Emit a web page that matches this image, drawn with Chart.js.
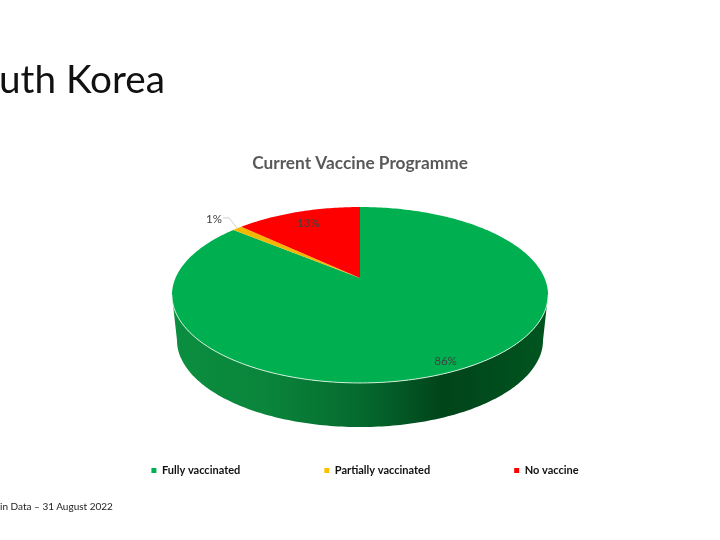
<!DOCTYPE html>
<html>
<head>
<meta charset="utf-8">
<style>
  body { margin: 0; background: #fff; overflow: hidden; }
  #wrap { position: relative; width: 720px; height: 540px; overflow: hidden; }
  canvas { position: absolute; left: 0; top: 0; }
  .slideText { position: absolute; white-space: nowrap; font-family: Lato, sans-serif; color: #111; }
</style>
<script src="https://cdn.jsdelivr.net/npm/chart.js@4/dist/chart.umd.min.js"></script>
</head>
<body>
<div id="wrap">
  <canvas id="vaccineChart" width="720" height="540"></canvas>
  <div class="slideText" style="left:-1px;top:55px;font-size:38.7px;">uth Korea</div>
  <div class="slideText" style="left:0;top:500px;font-size:10px;color:#222;">in Data – 31 August 2022</div>
</div>
<script>
const categories = ['Fully vaccinated', 'Partially vaccinated', 'No vaccine'];
const shares = [86, 1, 13];
const sliceColors = ['#00B050', '#F2B800', '#FF0000'];
const legendColors = ['#00B050', '#FFC000', '#FF0000'];

// perspective tilt of the disc, top face and bottom face
const tilt = 0.193;
const topFace = { rx: 184.5, ry: 84.7, cy: 278 };
const bottomFace = { rx: 179.6, ry: 83.8, cy: 323.2 };

// where each percent label sits, as a share of the radius
const labelRadius = [0.915, 1.22, 0.805];

function project(el, face, angle, r) {
  const u = Math.cos(angle) * r;
  const v = -Math.sin(angle) * r;
  const d = 1 + tilt * v;
  return { x: el.x + face.rx * u / d, y: face.cy - face.ry * v / d };
}

function traceArc(ctx, el, face, from, to) {
  const steps = Math.max(2, Math.ceil(Math.abs(to - from) * 60));
  for (let i = 0; i <= steps; i++) {
    const p = project(el, face, from + (to - from) * i / steps, 1);
    ctx.lineTo(p.x, p.y);
  }
}

// the library gives the slice angles, this plugin draws them as a tilted disc
const discPlugin = {
  id: 'disc',
  afterLayout(chart) {
    // legend row sits a little right of the slide centre
    chart.legend.left += 5;
    chart.legend.right += 5;
  },
  beforeDatasetDraw(chart) {
    const ctx = chart.ctx;
    const arcs = chart.getDatasetMeta(0).data;
    const frontStart = Math.asin(tilt);
    const frontEnd = Math.PI - frontStart;

    const side = ctx.createLinearGradient(172, 0, 548, 0);
    side.addColorStop(0, '#0B8E40');
    side.addColorStop(0.25, '#0A853B');
    side.addColorStop(0.5, '#056A2E');
    side.addColorStop(0.72, '#00441A');
    side.addColorStop(1, '#00551F');

    ctx.save();
    arcs.forEach((el) => {
      const from = Math.max(el.startAngle, frontStart);
      const to = Math.min(el.endAngle, frontEnd);
      if (to <= from) return;
      ctx.beginPath();
      traceArc(ctx, el, topFace, from, to);
      traceArc(ctx, el, bottomFace, to, from);
      ctx.closePath();
      ctx.fillStyle = side;
      ctx.fill();
    });

    arcs.forEach((el, i) => {
      const apex = project(el, topFace, 0, 0);
      ctx.beginPath();
      ctx.moveTo(apex.x, apex.y);
      traceArc(ctx, el, topFace, el.startAngle, el.endAngle);
      ctx.closePath();
      ctx.fillStyle = sliceColors[i];
      ctx.fill();
    });

    // pale rim along the front edge
    ctx.beginPath();
    traceArc(ctx, arcs[0], topFace, frontStart, frontEnd);
    ctx.strokeStyle = 'rgba(225,245,230,0.9)';
    ctx.lineWidth = 1;
    ctx.stroke();

    ctx.font = '11.5px Lato, sans-serif';
    ctx.textAlign = 'center';
    ctx.textBaseline = 'middle';
    arcs.forEach((el, i) => {
      const mid = (el.startAngle + el.endAngle) / 2;
      const p = project(el, topFace, mid, labelRadius[i]);
      if (labelRadius[i] > 1) {
        const a = project(el, topFace, mid, 1);
        ctx.beginPath();
        ctx.moveTo(p.x + 9, p.y - 1);
        ctx.lineTo(p.x + 15, p.y - 1);
        ctx.lineTo(a.x, a.y);
        ctx.strokeStyle = '#BFBFBF';
        ctx.lineWidth = 0.75;
        ctx.stroke();
      }
      ctx.fillStyle = '#404040';
      ctx.fillText(shares[i] + '%', p.x, p.y);
    });
    ctx.restore();
    return false;
  }
};

new Chart(document.getElementById('vaccineChart'), {
  type: 'pie',
  data: {
    labels: categories,
    datasets: [{ data: shares, backgroundColor: legendColors, borderWidth: 0 }]
  },
  options: {
    responsive: false,
    animation: false,
    devicePixelRatio: 1,
    layout: { padding: { bottom: 54 } },
    plugins: {
      title: {
        display: true,
        text: 'Current Vaccine Programme',
        color: '#595959',
        font: { family: 'Lato, sans-serif', size: 17.3, weight: 'bold' },
        padding: { top: 153, bottom: 10 }
      },
      legend: {
        position: 'bottom',
        labels: {
          color: '#111',
          font: { family: 'Lato, sans-serif', size: 11, weight: 'bold' },
          usePointStyle: true,
          pointStyle: 'rect',
          boxHeight: 5,
          boxWidth: 5,
          padding: 84
        }
      },
      tooltip: { enabled: false }
    }
  },
  plugins: [discPlugin]
});
</script>
</body>
</html>
